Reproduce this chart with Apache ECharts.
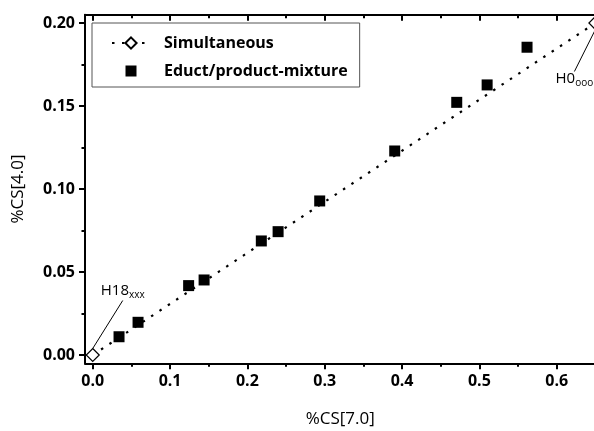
<!DOCTYPE html>
<html>
<head>
<meta charset="utf-8">
<script src="https://cdn.jsdelivr.net/npm/echarts@6/dist/echarts.min.js"></script>
<style>html,body{margin:0;padding:0;background:#fff;}#c{width:594px;height:431px;}</style>
</head>
<body>
<div id="c"></div>
<script>
// ---- data ----
const simX = [0.0, 0.65];
const simY = [0.0, 0.2];
const simLabels = ['H18', 'H0'];
const simSubs = ['xxx', 'ooo'];
const eductX = [0.034, 0.0586, 0.124, 0.144, 0.218, 0.2397, 0.2935, 0.3905, 0.4707, 0.51, 0.5616];
const eductY = [0.011, 0.0197, 0.0418, 0.0452, 0.0687, 0.0743, 0.0928, 0.1229, 0.1522, 0.1627, 0.1854];
const xMajor = [0.0, 0.1, 0.2, 0.3, 0.4, 0.5, 0.6];
const xMinor = [0.05, 0.15, 0.25, 0.35, 0.45, 0.55];
const yMajor = [0.0, 0.05, 0.1, 0.15, 0.2];
const yMinor = [0.025, 0.075, 0.125, 0.175];
const xLabels = ['0.0', '0.1', '0.2', '0.3', '0.4', '0.5', '0.6'];
const yLabels = ['0.00', '0.05', '0.10', '0.15', '0.20'];

const FONT = '"Open Sans", "Noto Sans", sans-serif';
const chart = echarts.init(document.getElementById('c'), null, {renderer: 'canvas'});

function fmt(list, labels) {
  return v => {
    for (let i = 0; i < list.length; i++) if (Math.abs(list[i] - v) < 1e-9) return labels[i];
    return '';
  };
}
const XMIN = -0.01, XMAX = 0.65, YMIN = -0.005, YMAX = 0.205;
const lineSt = {color: '#000', width: 2};
function xa(opts) {
  const o = Object.assign({type: 'value', min: XMIN, max: XMAX, gridIndex: 0, splitLine: {show: false},
    axisLabel: {show: false}, axisTick: {show: false}}, opts);
  o.axisLine = Object.assign({show: false, onZero: false, lineStyle: lineSt}, opts.axisLine || {});
  return o;
}
function ya(opts) {
  const o = Object.assign({type: 'value', min: YMIN, max: YMAX, gridIndex: 0, splitLine: {show: false},
    axisLabel: {show: false}, axisTick: {show: false}}, opts);
  o.axisLine = Object.assign({show: false, onZero: false, lineStyle: lineSt}, opts.axisLine || {});
  return o;
}
const offsets = [[30, -64], [-21, 56]];

chart.setOption({
  animation: false,
  backgroundColor: '#fff',
  grid: {left: 85, top: 14.7, width: 510.4, height: 348.6, containLabel: false, outerBoundsMode: 'none'},
  legend: {
    left: 92, top: 23, orient: 'vertical',
    itemWidth: 38, itemHeight: 14, itemGap: 12,
    padding: [12, 12, 8, 19],
    borderColor: '#555', borderWidth: 1, backgroundColor: '#fff',
    textStyle: {fontFamily: FONT, fontWeight: 'bold', fontSize: 16, color: '#000', padding: [0, 0, 0, 9]},
    data: [
      {name: 'Simultaneous'},
      {name: 'Educt/product-mixture', icon: 'path://M0,0 M38,14 M13.5,1.5 L24.5,1.5 L24.5,12.5 L13.5,12.5 Z'}
    ]
  },
  xAxis: [
    xa({position: 'bottom', name: '%CS[7.0]', nameLocation: 'middle', nameGap: 47,
      nameTextStyle: {fontFamily: FONT, fontSize: 17, color: '#000'},
      axisLine: {show: true},
      axisTick: {show: true, length: 6, customValues: xMajor, lineStyle: lineSt},
      axisLabel: {show: true, customValues: xMajor, formatter: fmt(xMajor, xLabels), margin: 10,
        fontFamily: FONT, fontWeight: 'bold', fontSize: 16, color: '#000'}}),
    xa({position: 'bottom', axisTick: {show: true, length: 3.5, customValues: xMinor, lineStyle: lineSt}}),
    xa({position: 'top', axisLine: {show: true},
      axisTick: {show: true, inside: true, length: 6, customValues: xMajor, lineStyle: lineSt}}),
    xa({position: 'top', axisTick: {show: true, inside: true, length: 3.5, customValues: xMinor, lineStyle: lineSt}})
  ],
  yAxis: [
    ya({position: 'left', name: '%CS[4.0]', nameLocation: 'middle', nameGap: 58,
      nameTextStyle: {fontFamily: FONT, fontSize: 17, color: '#000'},
      axisLine: {show: true},
      axisTick: {show: true, length: 6, customValues: yMajor, lineStyle: lineSt},
      axisLabel: {show: true, customValues: yMajor, formatter: fmt(yMajor, yLabels), margin: 10,
        fontFamily: FONT, fontWeight: 'bold', fontSize: 16, color: '#000'}}),
    ya({position: 'left', axisTick: {show: true, length: 3.5, customValues: yMinor, lineStyle: lineSt}})
  ],
  series: [
    {
      name: 'Simultaneous', type: 'line', xAxisIndex: 0, yAxisIndex: 0,
      data: simX.map((x, i) => [x, simY[i]]),
      symbol: 'diamond', symbolSize: 13, z: 3,
      itemStyle: {color: '#fff', borderColor: '#000', borderWidth: 1.2},
      lineStyle: {color: '#000', width: 2.2, type: [2.5, 7.5]},
      label: {
        show: true, position: 'inside', color: '#000', fontFamily: FONT,
        formatter: p => '{m|' + simLabels[p.dataIndex] + '}{s|' + simSubs[p.dataIndex] + '}',
        rich: {m: {fontSize: 15, fontFamily: FONT, color: '#000'},
               s: {fontSize: 10, fontFamily: FONT, color: '#000', padding: [9, 0, 0, 0]}}
      },
      labelLine: {show: true, lineStyle: {color: '#000', width: 1}},
      labelLayout: p => ({dx: offsets[p.dataIndex][0], dy: offsets[p.dataIndex][1]})
    },
    {
      name: 'Educt/product-mixture', type: 'scatter', xAxisIndex: 0, yAxisIndex: 0,
      data: eductX.map((x, i) => [x, eductY[i]]),
      symbol: 'rect', symbolSize: 11, z: 4,
      itemStyle: {color: '#000', opacity: 1}
    }
  ]
});
</script>
</body>
</html>
